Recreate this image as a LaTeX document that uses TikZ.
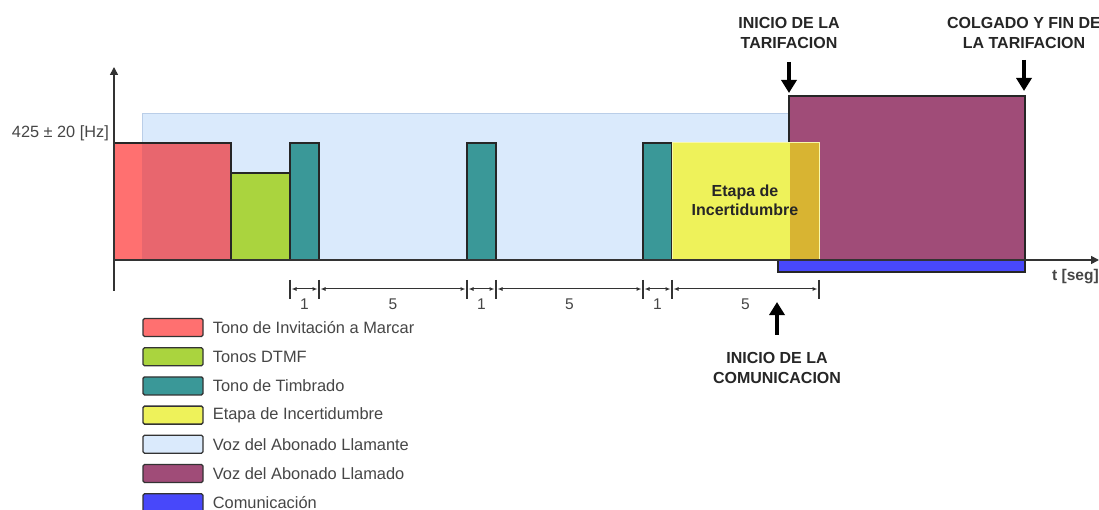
\documentclass[tikz,border=0pt]{standalone}
\usepackage{fontspec}
\setmainfont{Liberation Sans}
\usetikzlibrary{arrows.meta, positioning}
\definecolor{toneRed}{RGB}{255, 112, 112}
\definecolor{toneRedDark}{RGB}{232, 102, 110}
\definecolor{dtmfGreen}{RGB}{170, 212, 62}
\definecolor{ringTeal}{RGB}{58, 152, 152}
\definecolor{doubtYellow}{RGB}{238, 242, 90}
\definecolor{doubtEdge}{RGB}{248, 248, 170}
\definecolor{doubtYellowDark}{RGB}{216, 180, 50}
\definecolor{callerBlue}{RGB}{218, 234, 252}
\definecolor{callerEdge}{RGB}{186, 206, 232}
\definecolor{calledPurple}{RGB}{160, 76, 120}
\definecolor{commBlue}{RGB}{72, 72, 250}
\definecolor{textGray}{RGB}{70, 70, 70}
\tikzset{
    % Signal Bar Styles
    bar/.style={draw=black!85, line width=1.4pt},
    barRed/.style={bar, fill=toneRed},
    barGreen/.style={bar, fill=dtmfGreen},
    barTeal/.style={bar, fill=ringTeal},
    barPurple/.style={bar, fill=calledPurple},
    barBlue/.style={bar, fill=commBlue},
    % Arrow & Label Styles
    axisArrow/.style={-{Triangle[length=8pt, width=8pt]}, line width=1.6pt, draw=black!80},
    bigArrow/.style={-{Triangle[length=13pt, width=15pt]}, line width=4pt},
    dimArrow/.style={{Latex[length=5pt, width=4pt]}-{Latex[length=5pt, width=4pt]}, line width=1pt, draw=black!80, shorten <=1.5pt, shorten >=1.5pt},
    dimTick/.style={line width=1.4pt, draw=black!80},
    dimLabel/.style={font=\fontsize{15.5pt}{18pt}\selectfont, text=textGray},
    headLabel/.style={font=\bfseries\fontsize{16pt}{20pt}\selectfont, align=center, text=black!85, inner sep=2pt},
    axisLabel/.style={font=\fontsize{16.3pt}{18pt}\selectfont, text=textGray, inner sep=0pt},
    % Legend Styles
    legendBox/.style={rectangle, rounded corners=1.5pt, minimum width=60pt, minimum height=18pt, inner sep=0pt, draw=black!80, line width=1.3pt},
    legendText/.style={font=\fontsize{16.4pt}{18pt}\selectfont, text=textGray, inner sep=0pt, anchor=west}
}

\begin{document}
\begin{tikzpicture}[x=1pt, y=-1pt]

    \fill [white] (0,0) rectangle (1099,510);
    \useasboundingbox (0,0) rectangle (1099,510);

    % --- BARS ---

    % Caller voice (background)
    \draw [fill=callerBlue, draw=callerEdge, line width=1pt] (142,114) rectangle (790,260);

    % Dial tone, DTMF and ringing
    \draw [barRed] (114,143) rectangle (231,260);
    \fill [toneRedDark] (142,143.7) rectangle (230.3,259.3);
    \draw [barRed, fill=none] (114,143) rectangle (231,260);
    \draw [barGreen] (231,173) rectangle (290,260);
    \draw [barTeal] (290,143) rectangle (319,260);
    \draw [barTeal] (467,143) rectangle (496,260);
    \draw [barTeal] (643,143) rectangle (672,260);

    % Called voice and uncertainty stage
    \draw [barPurple] (789,96) rectangle (1025,260);
    \draw [fill=doubtYellow, draw=doubtEdge, line width=1pt] (672,143) rectangle (819,260);
    \fill [doubtYellowDark] (789.6,143.5) rectangle (818.5,259.5);
    \node (lblDoubt) [font=\bfseries\fontsize{16pt}{19pt}\selectfont, align=center, text=black!85] at (745,200) {Etapa de\\Incertidumbre};

    % Communication
    \draw [barBlue] (778,260) rectangle (1025,272);

    % --- AXES ---
    \coordinate (origin) at (114,260);
    \coordinate (yTop) at (114,67);
    \coordinate (yBottom) at (114,291);
    \coordinate (xEnd) at (1099,260);
    \draw [axisArrow] (yBottom) -- (yTop);
    \draw [axisArrow] (origin) -- (xEnd);

    \node (lblFreq) [axisLabel, anchor=east] at (109,133) {425 ± 20 [Hz]};
    \node (lblTime) [axisLabel, font=\bfseries\fontsize{15.5pt}{18pt}\selectfont, anchor=west] at (1052,277) {t [seg]};

    % --- DIMENSIONS ---
    \coordinate (dim0) at (290,289);
    \coordinate (dim1) at (319,289);
    \coordinate (dim2) at (467,289);
    \coordinate (dim3) at (496,289);
    \coordinate (dim4) at (643,289);
    \coordinate (dim5) at (672,289);
    \coordinate (dim6) at (819,289);

    \draw [dimTick] ([yshift=9pt]dim0) -- ([yshift=-10pt]dim0);
    \draw [dimTick, line width=2.6pt] ([yshift=9pt]dim1) -- ([yshift=-10pt]dim1);
    \draw [dimTick, line width=2.6pt] ([yshift=9pt]dim2) -- ([yshift=-10pt]dim2);
    \draw [dimTick, line width=2.6pt] ([yshift=9pt]dim3) -- ([yshift=-10pt]dim3);
    \draw [dimTick, line width=2.6pt] ([yshift=9pt]dim4) -- ([yshift=-10pt]dim4);
    \draw [dimTick, line width=2.6pt] ([yshift=9pt]dim5) -- ([yshift=-10pt]dim5);
    \draw [dimTick] ([yshift=9pt]dim6) -- ([yshift=-10pt]dim6);

    \draw [dimArrow] (dim0) -- node (dimLbl1) [dimLabel, below=6pt] {1} (dim1);
    \draw [dimArrow] (dim1) -- node (dimLbl2) [dimLabel, below=6pt] {5} (dim2);
    \draw [dimArrow] (dim2) -- node (dimLbl3) [dimLabel, below=6pt] {1} (dim3);
    \draw [dimArrow] (dim3) -- node (dimLbl4) [dimLabel, below=6pt] {5} (dim4);
    \draw [dimArrow] (dim4) -- node (dimLbl5) [dimLabel, below=6pt] {1} (dim5);
    \draw [dimArrow] (dim5) -- node (dimLbl6) [dimLabel, below=6pt] {5} (dim6);

    % --- EVENT ARROWS ---
    \node (lblTarStart) [headLabel] at (789,33) {INICIO DE LA\\TARIFACION};
    \node (lblTarEnd) [headLabel] at (1024,33) {COLGADO Y FIN DE\\LA TARIFACION};
    \node (lblCommStart) [headLabel] at (777,367.5) {INICIO DE LA\\COMUNICACION};

    \coordinate (tarStart) at (789,93);
    \coordinate (tarEnd) at (1024,91);
    \coordinate (commStart) at (777,302);

    \draw [bigArrow, shorten <=11pt] (lblTarStart) -- (tarStart);
    \draw [bigArrow, shorten <=9pt] (lblTarEnd) -- (tarEnd);
    \draw [bigArrow, shorten <=15pt] (lblCommStart) -- (commStart);

    % --- LEGEND ---
    \node (legRed) [legendBox, fill=toneRed] at (173,327.5) {};
    \node (legRedText) [legendText, right=9pt of legRed] {Tono de Invitación a Marcar};
    \node (legGreen) [legendBox, fill=dtmfGreen, below=9.9pt of legRed] {};
    \node (legGreenText) [legendText, right=9pt of legGreen] {Tonos DTMF};
    \node (legTeal) [legendBox, fill=ringTeal, below=9.9pt of legGreen] {};
    \node (legTealText) [legendText, right=9pt of legTeal] {Tono de Timbrado};
    \node (legYellow) [legendBox, fill=doubtYellow, below=9.9pt of legTeal] {};
    \node (legYellowText) [legendText, right=9pt of legYellow] {Etapa de Incertidumbre};
    \node (legCaller) [legendBox, fill=callerBlue, below=9.9pt of legYellow] {};
    \node (legCallerText) [legendText, right=9pt of legCaller] {Voz del Abonado Llamante};
    \node (legCalled) [legendBox, fill=calledPurple, below=9.9pt of legCaller] {};
    \node (legCalledText) [legendText, right=9pt of legCalled] {Voz del Abonado Llamado};
    \node (legComm) [legendBox, fill=commBlue, below=9.9pt of legCalled] {};
    \node (legCommText) [legendText, right=9pt of legComm] {Comunicación};

\end{tikzpicture}
\end{document}
